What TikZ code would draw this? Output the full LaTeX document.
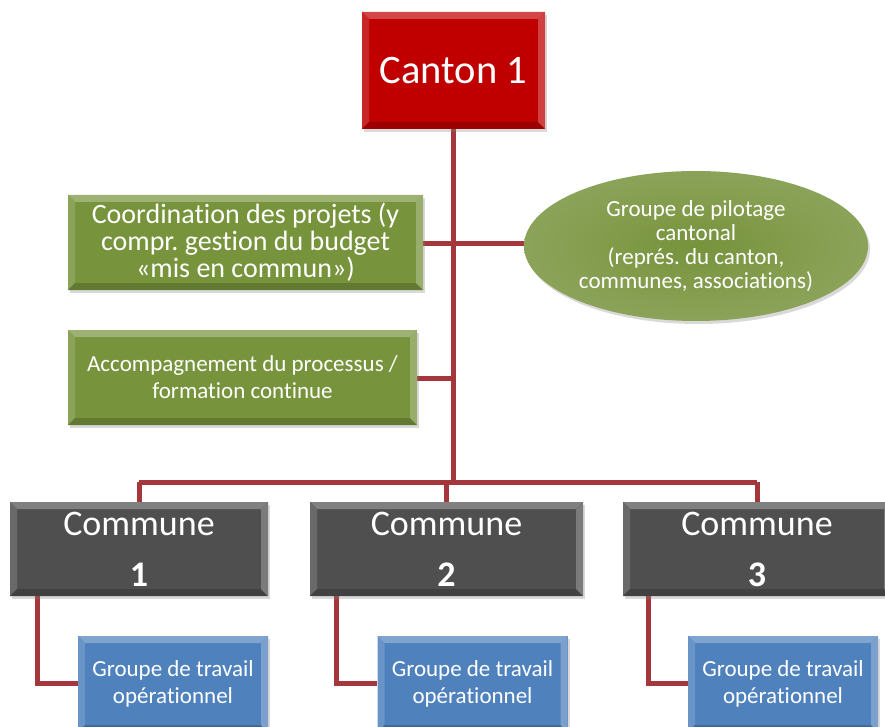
\documentclass[tikz,border=0pt]{standalone}
\usepackage{fontspec}
\setmainfont{Carlito}[Ligatures={NoCommon,NoContextual}]
\frenchspacing
\usetikzlibrary{shapes.geometric,shadows,backgrounds}
\definecolor{cred}{HTML}{C00000}
\definecolor{cgreen}{HTML}{77933C}
\definecolor{cgray}{HTML}{4F4F4F}
\definecolor{cblue}{HTML}{4F81BD}
\definecolor{cline}{HTML}{A3373B}
\tikzset{
  bevelbox/.style={rectangle, fill=#1, text=white, align=center, inner sep=0pt,
    drop shadow={opacity=0.3, shadow xshift=2pt, shadow yshift=-3pt},
    path picture={
      \fill[#1!72!white] (path picture bounding box.north west) -- (path picture bounding box.north east)
        -- ([xshift=-7pt,yshift=-7pt]path picture bounding box.north east) -- ([xshift=7pt,yshift=-7pt]path picture bounding box.north west) -- cycle;
      \fill[#1!85!white] (path picture bounding box.north west) -- ([xshift=7pt,yshift=-7pt]path picture bounding box.north west)
        -- ([xshift=7pt,yshift=7pt]path picture bounding box.south west) -- (path picture bounding box.south west) -- cycle;
      \fill[#1!82!black] (path picture bounding box.south west) -- (path picture bounding box.south east)
        -- ([xshift=-7pt,yshift=7pt]path picture bounding box.south east) -- ([xshift=7pt,yshift=7pt]path picture bounding box.south west) -- cycle;
      \fill[#1!75!white] (path picture bounding box.north east) -- (path picture bounding box.south east)
        -- ([xshift=-7pt,yshift=7pt]path picture bounding box.south east) -- ([xshift=-7pt,yshift=-7pt]path picture bounding box.north east) -- cycle;
    }},
  conn/.style={draw=cline, line width=5pt},
}
\begin{document}
\begin{tikzpicture}[x=1pt,y=-1pt]
\useasboundingbox (0,0) rectangle (885,727);
\clip (0,0) rectangle (885,727);
% nodes
\node[bevelbox=cred, minimum width=183pt, minimum height=117pt, font=\fontsize{40.5}{46}\selectfont] (canton) at (453.5,70.5) {Canton 1};
\node[bevelbox=cgreen, minimum width=355pt, minimum height=95pt, font=\fontsize{28}{27}\selectfont] (coord) at (245.5,242.5) {Coordination des projets (y\\compr. gestion du budget\\«mis en commun»)};
\node[bevelbox=cgreen, minimum width=349pt, minimum height=95pt, font=\fontsize{23}{27}\selectfont] (accomp) at (242.5,377.5) {Accompagnement du processus /\\formation continue};
\node[ellipse, minimum width=344pt, minimum height=150pt, inner sep=0pt, text=white, align=center,
  shading=radial, inner color=cgreen, outer color=cgreen!85!white,
  drop shadow={opacity=0.3, shadow xshift=2pt, shadow yshift=-3pt},
  font=\fontsize{23}{24}\selectfont] (pilot) at (696,246) {Groupe de pilotage\\cantonal\\(représ. du canton,\\communes, associations)};
\foreach \n/\x/\w in {1/139/258, 2/446.5/273, 3/757/268}{
  \node[bevelbox=cgray, minimum width=\w pt, minimum height=94pt, font=\fontsize{36}{51}\selectfont] (c\n) at (\x,549) {Commune\\\textbf{\n}};
}
\foreach \n/\x in {1/173, 2/472.5, 3/783}{
  \node[bevelbox=cblue, minimum width=190pt, minimum height=96pt, font=\fontsize{23}{27}\selectfont] (b\n) at (\x,684) {Groupe de travail\\opérationnel};
}
% connectors (behind nodes)
\coordinate (bus) at (453,482);
\coordinate (busL) at (139,482);
\coordinate (busR) at (757,482);
\coordinate (j1) at (453,243);
\coordinate (j2) at (453,378);
\foreach \n/\x in {1/37, 2/336, 3/648}{
  \coordinate (k\n) at (\x,683);
}
\begin{pgfonlayer}{background}
\draw[conn] (canton.south -| bus) -- (bus);
\draw[conn] (coord.east |- j1) -- (pilot.west |- j1);
\draw[conn] (accomp.east |- j2) -- (j2);
\draw[conn] (busL) -- (busR);
\draw[conn] (busL) -- (c1.north);
\draw[conn] (c2.north |- bus) -- (c2.north);
\draw[conn] (busR) -- (c3.north);
\draw[conn] (c1.south -| k1) -- (k1) -- (b1.west |- k1);
\draw[conn] (c2.south -| k2) -- (k2) -- (b2.west |- k2);
\draw[conn] (c3.south -| k3) -- (k3) -- (b3.west |- k3);
\end{pgfonlayer}
\end{tikzpicture}
\end{document}
